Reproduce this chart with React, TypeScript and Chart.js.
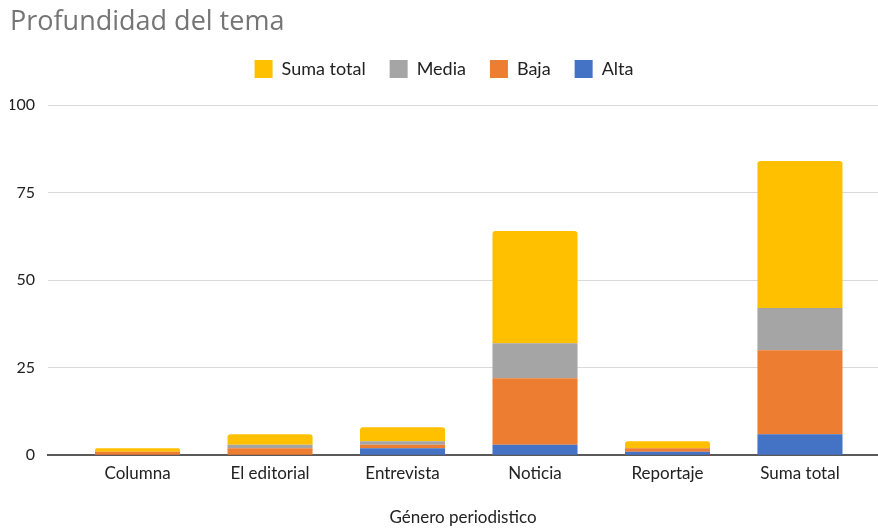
import React, { useEffect, useRef } from "react";
import { Chart, registerables } from "chart.js";

Chart.register(...registerables);

const categories = ["Columna", "El editorial", "Entrevista", "Noticia", "Reportaje", "Suma total"];
const alta = [0, 0, 2, 3, 1, 6];
const baja = [1, 2, 1, 19, 1, 24];
const media = [0, 1, 1, 10, 0, 12];
const sumaTotal = [1, 3, 4, 32, 2, 42];
const yTickValues = [0, 25, 50, 75, 100];

const FONT = "Lato, 'Open Sans', sans-serif";

export default function App() {
  const ref = useRef<HTMLCanvasElement | null>(null);

  useEffect(() => {
    if (!ref.current) return;
    const mk = (label: string, data: number[], color: string, top = false) => ({
      label,
      data: data.map((y, i) => ({ x: i, y })),
      xAxisID: "x",
      yAxisID: "y",
      backgroundColor: color,
      borderWidth: 0,
      borderRadius: top ? { topLeft: 3, topRight: 3, bottomLeft: 0, bottomRight: 0 } : 0,
      barPercentage: 0.642,
      categoryPercentage: 1,
    });
    const chart = new Chart(ref.current, {
      type: "bar",
      data: {
        datasets: [
          mk("Alta", alta, "#4472C4"),
          mk("Baja", baja, "#ED7D31"),
          mk("Media", media, "#A5A5A5"),
          mk("Suma total", sumaTotal, "#FFC000", true),
        ],
      },
      options: {
        animation: false,
        responsive: false,
        maintainAspectRatio: false,
        layout: { padding: { left: 10, right: 0, top: 0, bottom: 0 } },
        plugins: {
          title: {
            display: true,
            text: "Profundidad del tema",
            align: "start",
            color: "#757575",
            font: { family: "'Open Sans', sans-serif", size: 27, weight: "normal", lineHeight: 1 },
            padding: { top: 9, bottom: 0 },
          },
          legend: {
            display: true,
            reverse: true,
            labels: {
              boxWidth: 18,
              boxHeight: 18,
              padding: 24,
              color: "#222222",
              font: { family: FONT, size: 18 },
            },
          },
          tooltip: { enabled: false },
        },
        scales: {
          x: {
            type: "linear",
            stacked: true,
            offset: false,
            min: -0.676,
            max: 5.589,
            grid: { display: false, offset: false, drawTicks: false },
            border: { display: true, color: "#595959", width: 2 },
            afterBuildTicks: (s: any) => {
              s.ticks = categories.map((_, i) => ({ value: i }));
            },
            ticks: {
              autoSkip: false,
              maxRotation: 0,
              padding: 8,
              color: "#222222",
              font: { family: FONT, size: 17 },
              callback: (v: any) => categories[v as number] ?? "",
            },
            title: {
              display: true,
              text: "Género periodistico",
              color: "#222222",
              font: { family: FONT, size: 17 },
              padding: { top: 16, bottom: 0 },
            },
          },
          spacer: {
            type: "linear",
            axis: "x",
            position: "top",
            display: true,
            grid: { display: false },
            border: { display: false },
            ticks: { display: false },
            afterFit: (s: any) => {
              s.height = 17;
            },
          },
          y: {
            stacked: true,
            min: 0,
            max: 100,
            afterBuildTicks: (s: any) => {
              s.ticks = yTickValues.map((v) => ({ value: v }));
            },
            afterFit: (s: any) => {
              s.width = 38;
            },
            grid: { color: "#d9d9d9", drawTicks: false, lineWidth: 1 },
            border: { display: false },
            ticks: {
              padding: 13,
              color: "#222222",
              font: { family: FONT, size: 16 },
            },
          },
        },
      },
    });
    return () => chart.destroy();
  }, []);

  return (
    <div style={{ position: "fixed", left: 0, top: 0, width: 878, height: 528, background: "#fff", overflow: "hidden" }}>
      <canvas ref={ref} width={878} height={528} style={{ width: 878, height: 528, display: "block" }} />
    </div>
  );
}
